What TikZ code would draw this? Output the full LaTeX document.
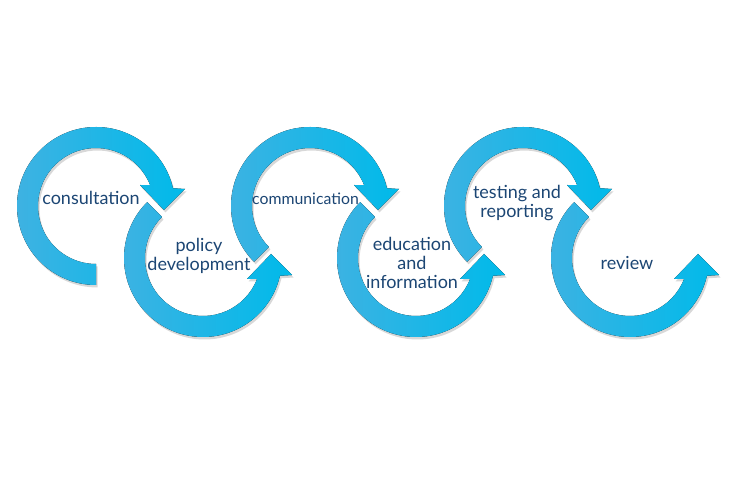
\documentclass[tikz,border=0pt]{standalone}
\usepackage{fontspec}
\setmainfont{Lato}
\usetikzlibrary{shadows}

\begin{document}
\begin{tikzpicture}[x=1pt, y=1pt]
  \newcommand\outerrad{79}
  \newcommand\innerrad{58}
  \definecolor{loopleft}{RGB}{62,178,226}
  \definecolor{loopright}{RGB}{0,186,234}
  \definecolor{labelblue}{RGB}{28,70,116}

  \tikzset{loopfill/.style={left color=loopleft, right color=loopright}}
  \tikzset{uploop/.style={loopfill, drop shadow={opacity=0.3, shadow xshift=1.5pt, shadow yshift=-2.5pt}}}
  \tikzset{downloop/.style={loopfill, drop shadow={opacity=0.3, shadow xshift=1.5pt, shadow yshift=-2.5pt}}}
  \tikzset{steplabel/.style={text=labelblue, font=\fontsize{18}{19}\selectfont, align=center}}
  \tikzset{smalllabel/.style={steplabel, font=\fontsize{15.8}{17}\selectfont}}

  % #1 centre, #2 tail angle, #3 1 for upper loops, -1 for lower ones
  \newcommand\looparrow[4]{
    \fill[#4, shift={#1}] ({#3*#2}:\innerrad) -- ({#3*#2}:\outerrad)
      arc[start angle={#3*#2}, end angle={#3*13}, radius=\outerrad]
      -- (89, {#3*17}) -- (68, {#3*(-4)}) -- (44, {#3*21})
      -- ({#3*21}:\innerrad)
      arc[start angle={#3*21}, end angle={#3*#2}, radius=\innerrad] -- cycle;
  }

  \fill[white] (0,0) rectangle (732,495);
  \useasboundingbox (0,0) rectangle (732,495);

  % loops
  \looparrow{(96,289)}{270}{1}{uploop}
  \looparrow{(203,237)}{225}{-1}{downloop}
  \looparrow{(310,289)}{225}{1}{uploop}
  \looparrow{(416,237)}{225}{-1}{downloop}
  \looparrow{(523,289)}{225}{1}{uploop}
  \looparrow{(630,237)}{225}{-1}{downloop}

  % labels
  \node[steplabel] (consult) at (91, 297) {consultation};
  \node[steplabel] (policy) at (199, 239) {policy\\development};
  \node[smalllabel] (comm) at (305.5, 296) {communication};
  \node[steplabel] (educ) at (412, 232) {education\\and\\information};
  \node[steplabel] (testing) at (517, 291.5) {testing and\\reporting};
  \node[steplabel] (review) at (627, 232) {review};
\end{tikzpicture}
\end{document}
